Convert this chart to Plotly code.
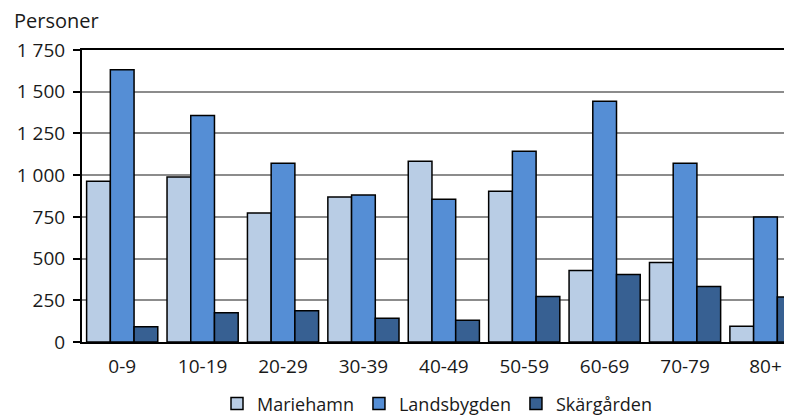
import plotly.graph_objects as go

categories = ["0-9", "10-19", "20-29", "30-39", "40-49", "50-59", "60-69", "70-79", "80+"]
mariehamn = [963, 989, 773, 869, 1083, 903, 428, 476, 94]
landsbygden = [1632, 1357, 1071, 881, 855, 1143, 1443, 1071, 749]
skargarden = [92, 176, 188, 142, 130, 272, 404, 332, 270]
y_tickvals = [0, 250, 500, 750, 1000, 1250, 1500, 1750]
y_ticktext = ["0", "250", "500", "750", "1 000", "1 250", "1 500", "1 750"]

FONT = "'Open Sans', Lato, sans-serif"

fig = go.Figure()
for name, vals, col in [("Mariehamn", mariehamn, "#B9CDE5"),
                        ("Landsbygden", landsbygden, "#558ED5"),
                        ("Skärgården", skargarden, "#376092")]:
    fig.add_trace(go.Bar(x=categories, y=vals, name=name,
                         marker=dict(color=col, line=dict(color="#000000", width=1.5))))

# page body has an 8px margin, so the figure is sized to fill the rest of the window
fig.update_layout(
    width=784, height=410,
    margin=dict(l=74, r=0, t=42, b=76, autoexpand=False),
    paper_bgcolor="white", plot_bgcolor="white",
    barmode="group", bargap=0.115, bargroupgap=0,
    font=dict(family=FONT, size=18, color="#1a1a1a"),
    legend=dict(orientation="h", x=0.5, xanchor="center", y=-0.212, yanchor="middle",
                font=dict(size=18), traceorder="normal",
                bgcolor="rgba(0,0,0,0)"),
    xaxis=dict(range=[-0.5, 8.33], showline=True, linecolor="#000000", linewidth=2,
               mirror=True, ticks="", showgrid=False, tickfont=dict(size=19),
               ticklabelstandoff=6, automargin=False),
    yaxis=dict(range=[0, 1750], tickvals=y_tickvals, ticktext=y_ticktext,
               showline=True, linecolor="#000000", linewidth=2,
               ticks="outside", ticklen=7, tickwidth=1.5, tickcolor="#000000",
               showgrid=True, gridcolor="#8c8c8c", gridwidth=1.5,
               tickfont=dict(size=19), ticklabelstandoff=4, automargin=False),
    annotations=[dict(text="Personer", xref="paper", yref="paper", x=0, y=1,
                      xshift=-70, yshift=14, xanchor="left", yanchor="bottom",
                      showarrow=False, font=dict(size=20))],
)

fig.write_html("out.html")
